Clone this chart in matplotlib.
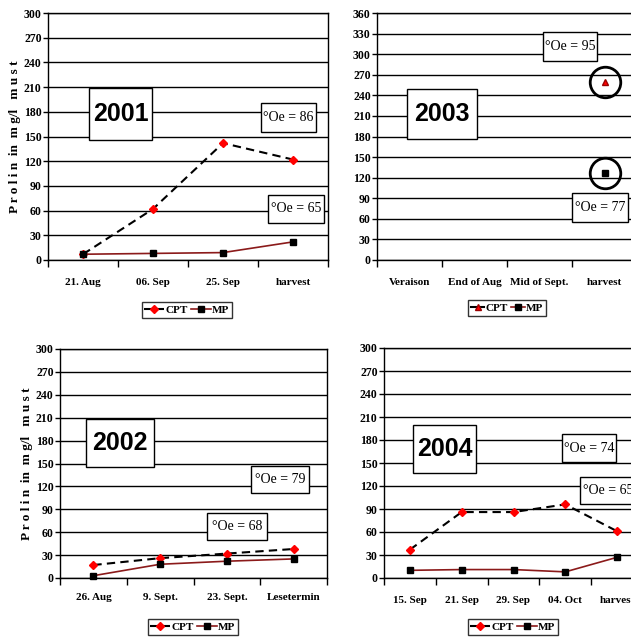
import numpy as np
import matplotlib
matplotlib.use("Agg")
import matplotlib.pyplot as plt
from matplotlib.patches import Rectangle
from matplotlib.lines import Line2D

# ---------------- data ----------------
cats_2001 = ['21. Aug', '06. Sep', '25. Sep', 'harvest']
cpt_2001 = [7, 62, 142, 122]
mp_2001 = [7, 8, 9, 22]

cats_2003 = ['Veraison', 'End of Aug', 'Mid of Sept.', 'harvest']
cpt_2003 = [np.nan, np.nan, np.nan, 260]
mp_2003 = [np.nan, np.nan, np.nan, 127]

cats_2002 = ['26. Aug', '9. Sept.', '23. Sept.', 'Lesetermin']
cpt_2002 = [17, 26, 32, 38]
mp_2002 = [3, 18, 22, 25]

cats_2004 = ['15. Sep', '21. Sep', '29. Sep', '04. Oct', 'harvest']
cpt_2004 = [37, 86, 86, 96, 61]
mp_2004 = [10, 11, 11, 8, 27]

years = ['2001', '2003', '2002', '2004']
oe_2001 = ['°Oe = 86', '°Oe = 65']
oe_2003 = ['°Oe = 95', '°Oe = 77']
oe_2002 = ['°Oe = 79', '°Oe = 68']
oe_2004 = ['°Oe = 74', '°Oe = 65']
ylabel = 'P r o l i n  in  m g/l   m u s t'

# ---------------- layout ----------------
W, H = 631, 637
fig = plt.figure(figsize=(W / 100, H / 100), dpi=100)
fig.patch.set_facecolor('white')

SERIF = ['Liberation Serif', 'DejaVu Serif']
SANS = ['Liberation Sans', 'DejaVu Sans']
MPCOL = '#8B1A1A'


def rect(x0, y0, x1, y1):
    return [x0 / W, 1 - y1 / H, (x1 - x0) / W, (y1 - y0) / H]


def box(x0, y0, x1, y1, text, size, family, weight):
    fig.add_artist(Rectangle((x0 / W, 1 - y1 / H), (x1 - x0) / W, (y1 - y0) / H,
                             transform=fig.transFigure, facecolor='white',
                             edgecolor='black', lw=1.0, zorder=10))
    fig.text((x0 + x1) / 2 / W, 1 - (y0 + y1) / 2 / H, text, ha='center', va='center',
             fontsize=size, family=family, fontweight=weight, zorder=11)


def panel(r, cats, cpt, mp, ymax, xpad, cpt_marker='D', lines=True, ylab=False,
          leg_xy=None):
    ax = fig.add_axes(rect(*r))
    n = len(cats)
    x = np.arange(n) + 0.5
    ls_cpt = (0, (4, 2.5)) if lines else 'none'
    ls_mp = '-' if lines else 'none'
    if cpt_marker == 'D':
        ax.plot(x, cpt, linestyle=ls_cpt, color='black', lw=1.5, marker='D',
                ms=4.5, mfc='red', mec='red', zorder=4, clip_on=False)
    else:
        ax.plot(x, cpt, linestyle=ls_cpt, color='black', lw=1.5, marker='^',
                ms=5, mfc='red', mec='#990000', zorder=4, clip_on=False)
    ax.plot(x, mp, linestyle=ls_mp, color=MPCOL, lw=1.2, marker='s',
            ms=5, mfc='black', mec='black', zorder=4, clip_on=False)
    ax.set_xlim(0, n)
    ax.set_ylim(0, ymax)
    ax.set_yticks(np.arange(0, ymax + 1, 30))
    ax.yaxis.grid(True, color='black', lw=1.0)
    ax.set_axisbelow(True)
    ax.set_xticks(np.arange(0, n + 1))
    ax.set_xticklabels([])
    ax.set_xticks(x, minor=True)
    ax.set_xticklabels(cats, minor=True)
    ax.tick_params(axis='x', which='major', length=5, width=1, direction='out')
    ax.tick_params(axis='x', which='minor', length=0, pad=xpad)
    ax.tick_params(axis='y', length=3.5, width=1, direction='out', pad=1)
    for lab in ax.get_xticklabels(minor=True):
        lab.set_family(SERIF)
        lab.set_fontweight('bold')
        lab.set_fontsize(8)
    for lab in ax.get_yticklabels():
        lab.set_family(SERIF)
        lab.set_fontweight('bold')
        lab.set_fontsize(8.5)
    for s in ax.spines.values():
        s.set_linewidth(1.0)
        s.set_color('black')
    if ylab:
        ax.set_ylabel(ylabel, family=SERIF, fontweight='bold', fontsize=9.5, labelpad=2)
    # legend
    h1 = Line2D([], [], linestyle=(0, (4, 2.5)) if lines else '-', color='black',
                lw=1.5, marker=cpt_marker, ms=5 if cpt_marker == '^' else 4.5,
                mfc='red', mec='red' if cpt_marker == 'D' else '#990000')
    h2 = Line2D([], [], linestyle='-', color=MPCOL, lw=1.2, marker='s', ms=5,
                mfc='black', mec='black')
    leg = fig.legend([h1, h2], ['CPT', 'MP'], loc='center',
                     bbox_to_anchor=(leg_xy[0] / W, 1 - leg_xy[1] / H), ncol=2,
                     frameon=True, fancybox=False, edgecolor='black',
                     handlelength=1.8 if lines else 1.2, handletextpad=0.1,
                     columnspacing=0.3, borderpad=0.25, borderaxespad=0,
                     prop={'family': SERIF, 'weight': 'bold', 'size': 8})
    leg.get_frame().set_linewidth(1.0)
    return ax


ax1 = panel((48, 13, 328, 260), cats_2001, cpt_2001, mp_2001, 300, 13,
            ylab=True, leg_xy=(187, 310))
ax2 = panel((377, 13, 637, 260), cats_2003, cpt_2003, mp_2003, 360, 13,
            cpt_marker='^', lines=False, leg_xy=(507, 308))
ax3 = panel((60, 349, 327, 578), cats_2002, cpt_2002, mp_2002, 300, 11,
            ylab=True, leg_xy=(193, 627))
ax4 = panel((384, 348, 643, 578), cats_2004, cpt_2004, mp_2004, 300, 13,
            leg_xy=(513, 627))

# circles around the 2003 harvest points
ax2.plot([3.5], [cpt_2003[3]], marker='o', ms=22, mfc='none', mec='black', mew=2,
         linestyle='none', zorder=5, clip_on=False)
ax2.plot([3.5], [mp_2003[3]], marker='o', ms=22, mfc='none', mec='black', mew=2,
         linestyle='none', zorder=5, clip_on=False)

# year boxes
box(89, 88, 152, 140, years[0], 18, SANS, 'bold')
box(407, 89, 477, 139, years[1], 18, SANS, 'bold')
box(86, 419, 154, 467, years[2], 18, SANS, 'bold')
box(413, 425, 476, 473, years[3], 18, SANS, 'bold')

# Oechsle boxes
box(261, 103, 316, 132, oe_2001[0], 10, SERIF, 'normal')
box(268, 195, 324, 223, oe_2001[1], 10, SERIF, 'normal')
box(543, 32, 597, 61, oe_2003[0], 10, SERIF, 'normal')
box(572, 193, 628, 222, oe_2003[1], 10, SERIF, 'normal')
box(251, 466, 309, 493, oe_2002[0], 10, SERIF, 'normal')
box(207, 513, 267, 540, oe_2002[1], 10, SERIF, 'normal')
box(562, 434, 616, 462, oe_2004[0], 10, SERIF, 'normal')
box(580, 477, 636, 504, oe_2004[1], 10, SERIF, 'normal')

fig.savefig('out.png', dpi=100)
